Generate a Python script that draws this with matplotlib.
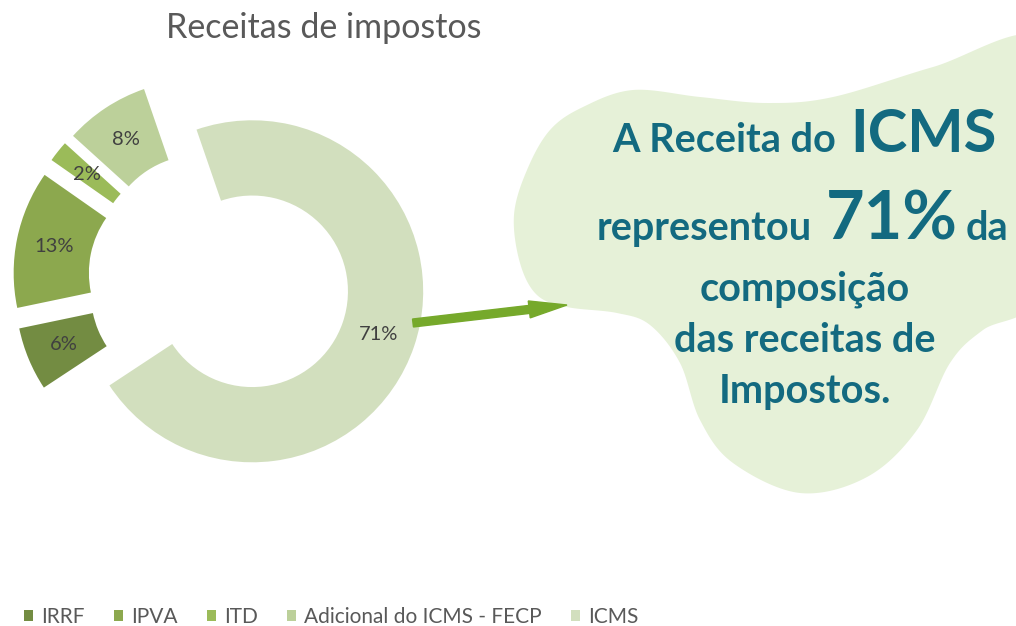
import numpy as np
import matplotlib
matplotlib.use('Agg')
import matplotlib.pyplot as plt
from matplotlib.path import Path
from matplotlib.patches import PathPatch, FancyArrow, Patch

# dados do gráfico
categorias = ['IRRF', 'IPVA', 'ITD', 'Adicional do ICMS - FECP', 'ICMS']
percentuais = [6, 13, 2, 8, 71]
cores = ['#738C42', '#8CA84E', '#9BBB59', '#BCD09A', '#D2DFBE']

titulo = 'Receitas de impostos'
texto_cor = '#136A80'

plt.rcParams['font.family'] = ['Lato', 'DejaVu Sans']

W, H = 1016, 626
fig = plt.figure(figsize=(W / 100, H / 100), dpi=100)

# rosca: centro em pixels (a partir do canto superior esquerdo) e raio externo
cx, cy, R = 219, 280, 171
ax = fig.add_axes([0, 0, 1, 1])
wedges, _, pcts = ax.pie(percentuais, colors=cores, radius=1, startangle=-146.6,
                         counterclock=False, explode=[0.205] * len(percentuais),
                         wedgeprops=dict(width=0.44, edgecolor='none'),
                         autopct='%1.0f%%', pctdistance=0.78,
                         textprops=dict(color='#404040', fontsize=14.5))
ax.set_xlim(-cx / R, (W - cx) / R)
ax.set_ylim(-(H - cy) / R, cy / R)
ax.axis('off')

# camada de sobreposição em pixels para a nuvem, seta e textos
ax2 = fig.add_axes([0, 0, 1, 1])
ax2.set_xlim(0, W)
ax2.set_ylim(H, 0)
ax2.axis('off')
ax2.patch.set_alpha(0)


def catmull_rom_closed(pts, n=30):
    pts = np.asarray(pts, dtype=float)
    out = []
    k = len(pts)
    for i in range(k):
        p0, p1, p2, p3 = pts[i - 1], pts[i], pts[(i + 1) % k], pts[(i + 2) % k]
        t = np.linspace(0, 1, n, endpoint=False)[:, None]
        out.append(0.5 * ((2 * p1) + (-p0 + p2) * t + (2 * p0 - 5 * p1 + 4 * p2 - p3) * t ** 2
                          + (-p0 + 3 * p1 - 3 * p2 + p3) * t ** 3))
    out = np.vstack(out)
    return np.vstack([out, out[:1]])


nuvem = [(1040, 38), (933, 67), (833, 97), (767, 103), (700, 97), (633, 90), (583, 107),
         (550, 130), (527, 170), (514, 215), (520, 263), (537, 295), (567, 307), (617, 313),
         (650, 325), (680, 363), (700, 420), (733, 463), (800, 493), (867, 477), (917, 430),
         (950, 363), (983, 330), (1040, 295), (1060, 160)]
verts = catmull_rom_closed(nuvem)
ax2.add_patch(PathPatch(Path(verts), facecolor='#E6F1D8', edgecolor='none', zorder=1))

ax2.add_patch(FancyArrow(413, 323, 154, -18, width=8, head_width=17, head_length=38,
                         length_includes_head=True, color='#76A92B', zorder=3))

kw = dict(color=texto_cor, fontweight='bold', va='baseline', zorder=4)
ax2.text(836, 152, 'A Receita do', ha='right', fontsize=28.5, **kw)
ax2.text(850, 152, 'ICMS', ha='left', fontsize=43, **kw)
ax2.text(812, 240, 'representou', ha='right', fontsize=28.5, **kw)
ax2.text(826, 240, '71%', ha='left', fontsize=48, **kw)
ax2.text(966, 240, 'da', ha='left', fontsize=28.5, **kw)
ax2.text(805, 300, 'composição', ha='center', fontsize=28.5, **kw)
ax2.text(805, 352, 'das receitas de', ha='center', fontsize=28.5, **kw)
ax2.text(805, 403, 'Impostos.', ha='center', fontsize=28.5, **kw)

fig.text(324 / W, 1 - 28 / H, titulo, ha='center', va='center', fontsize=24.5, color='#595959')

handles = [Patch(facecolor=c, edgecolor='none') for c in cores]
fig.legend(handles, categorias, ncol=5, loc='center left', bbox_to_anchor=(24 / W, 1 - 617 / H),
           frameon=False, borderpad=0, borderaxespad=0, handlelength=0.43, handleheight=0.43,
           handletextpad=0.38, columnspacing=1.42, fontsize=15, labelcolor='#595959')

fig.savefig('out.png', dpi=100)
